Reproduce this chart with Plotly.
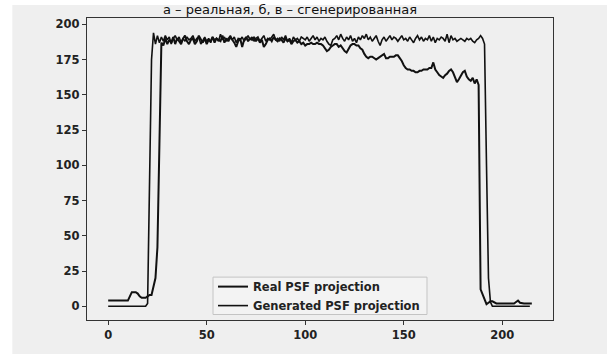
import plotly.graph_objects as go

# ---- data ----
real_x = list(range(0, 216))
real_y = (
    [4] * 11
    + [7, 10, 10, 10, 9, 7, 6, 6, 6, 7, 8, 8, 14, 20, 42, 120, 187]
    + [185, 190, 186, 189, 187, 191, 186, 190, 188, 186, 190, 192, 188, 186, 189, 190, 186, 188, 192, 189,
       187, 190, 186, 189, 188, 191, 187, 190, 189, 188, 192, 187, 190, 188, 191, 189, 187, 184, 188, 190,
       184, 189, 191, 188, 190, 189, 191, 188, 190, 187, 189, 184, 186, 189, 190, 188, 191, 189, 188, 190,
       189, 187, 190, 188, 189, 186, 188, 189, 187, 188, 186, 187]
    + [185, 186, 186, 187, 186, 186, 187, 186, 186, 185, 183, 181, 182, 184, 185, 186, 186, 184, 185, 183,
       181, 180, 183, 185, 186, 186, 185, 185, 183, 182, 179, 177, 176, 177, 177, 176, 175, 176, 177, 178,
       179, 176, 176, 177, 177, 177, 178, 178, 176, 174, 171, 169, 168, 168, 167, 167, 166, 166, 167, 167,
       168, 168, 168, 169, 169, 173, 168, 166, 164, 163, 162, 164, 165, 167, 168, 166, 162, 159, 161, 164,
       166, 167, 163, 161, 160, 162, 158, 161, 157]
    + [12, 8, 5, 1.5, 2.5, 3.5, 3.5, 2.5]
    + [2] * 10
    + [3, 4, 2.5]
    + [2] * 6
)

gen_x = list(range(0, 215))
gen_y = (
    [0] * 20
    + [2, 90, 175, 194, 186, 192, 187, 191]
    + [188, 192, 189, 191, 186, 190, 192, 189, 191, 187, 190, 188, 191, 189, 190, 192, 188, 190, 191, 186,
       189, 191, 188, 190, 187, 191, 189, 190, 188, 193, 189, 191, 188, 190, 192, 189, 191, 187, 190, 189,
       191, 188, 190, 192, 189, 191, 188, 190, 191, 188, 190, 192, 188, 190, 189, 191, 193, 189, 190, 188,
       191, 189, 192, 188, 190, 187, 191, 189, 190, 188, 191, 190, 189]
    + [191, 188, 190, 192, 189, 191, 188, 190, 189, 191, 188, 186, 185, 189, 190, 192, 189, 193, 190, 188,
       191, 189, 192, 188, 190, 187, 191, 189, 192, 190, 193, 189, 191, 188, 190, 192, 188, 185, 189, 191,
       188, 190, 192, 189, 191, 190, 188, 190, 192, 189, 190, 188, 191, 189, 187, 190, 192, 189, 191, 188,
       190, 189, 192, 188, 191, 187, 190, 189, 191, 190, 188, 193, 187, 192, 189, 190, 188, 189, 190, 189,
       188, 190, 189, 190, 188, 187, 189, 190, 192, 190]
    + [186, 100, 20, 3]
    + [0] * 20
)

series_names = ["Real PSF projection", "Generated PSF projection"]
x_ticks = [0, 50, 100, 150, 200]
y_ticks = [0, 25, 50, 75, 100, 125, 150, 175, 200]
caption = "а – реальная, б, в – сгенерированная"

BG = "#efefef"
font_main = dict(family="DejaVu Sans", size=11.5, color="#222222", weight="bold")

fig = go.Figure()
fig.add_trace(go.Scatter(x=real_x, y=real_y, mode="lines", name=series_names[0],
                         line=dict(color="#111111", width=2)))
fig.add_trace(go.Scatter(x=gen_x, y=gen_y, mode="lines", name=series_names[1],
                         line=dict(color="#111111", width=1.6)))

fig.update_layout(
    width=607, height=354,
    margin=dict(l=87, r=54, t=18, b=34),
    paper_bgcolor="white",
    plot_bgcolor=BG,
    font=font_main,
    showlegend=True,
    legend=dict(x=0.2704, y=0.1586, xanchor="left", yanchor="top",
                bgcolor="rgba(0,0,0,0)", borderwidth=0,
                font=font_main, tracegroupgap=0, itemwidth=30),
    shapes=[
        dict(type="rect", xref="paper", yref="paper",
             x0=-0.1603, x1=1.1166, y0=-0.1144, y1=1.043,
             fillcolor=BG, line=dict(width=0), layer="below"),
        dict(type="rect", xref="paper", yref="paper",
             x0=0.2704, x1=0.7296, y0=0.0182, y1=0.142,
             fillcolor="rgba(243,243,243,0.9)", line=dict(color="#c4c4c4", width=1), layer="above"),
    ],
    annotations=[dict(text=caption, xref="paper", yref="paper", x=0.436, y=1.058,
                      xanchor="center", yanchor="top", showarrow=False,
                      font=dict(family="DejaVu Sans", size=13, color="#111111", weight="normal"))],
)

fig.update_xaxes(range=[-10.75, 225.75], tickvals=x_ticks, ticks="outside", ticklen=4,
                 tickcolor="#333333", showline=True, mirror=True, linecolor="#333333",
                 linewidth=1.2, showgrid=False, zeroline=False)
fig.update_yaxes(range=[-9.75, 204.5], tickvals=y_ticks, ticks="outside", ticklen=4,
                 tickcolor="#333333", showline=True, mirror=True, linecolor="#333333",
                 linewidth=1.2, showgrid=False, zeroline=False)

fig.write_html("out.html", config={"displayModeBar": False},
               post_script="document.body.style.margin='0';")
